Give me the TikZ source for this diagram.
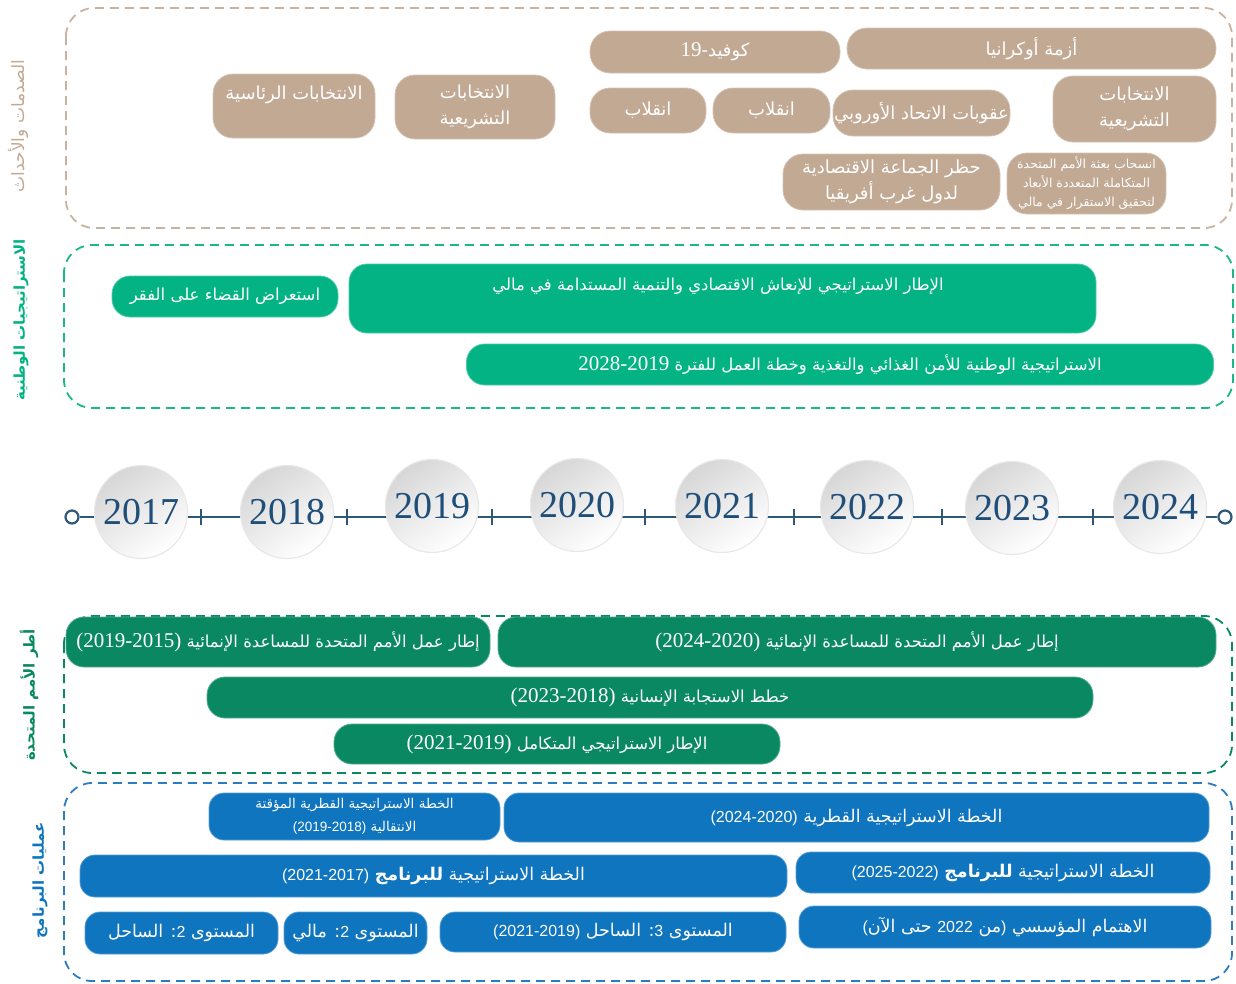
\documentclass[tikz,border=0pt]{standalone}
\usepackage{fontspec}
\TeXXeTstate=1
\newfontfamily\arabicfont[Script=Arabic]{DejaVu Sans}
\newfontfamily\numfont{Liberation Serif}
\newfontfamily\numsfont{Liberation Sans}
\newcommand{\ar}[1]{\beginR #1\endR}
\newcommand{\nm}[1]{\beginL{\numfont\fontsize{21}{24}\selectfont #1}\endL}
\newcommand{\nms}[1]{\beginL{\numsfont\fontsize{16}{20}\selectfont #1}\endL}
\newcommand{\nmss}[1]{\beginL{\numsfont\fontsize{13.5}{20}\selectfont #1}\endL}
\definecolor{tanfill}{HTML}{C1A994}
\definecolor{tanline}{HTML}{C9B29E}
\definecolor{ngreen}{HTML}{04B384}
\definecolor{ngreenline}{HTML}{1BB68A}
\definecolor{ungreen}{HTML}{0A8862}
\definecolor{pblue}{HTML}{0F75BF}
\definecolor{pblueline}{HTML}{2B7CC0}
\definecolor{yearblue}{HTML}{1F4E79}
\definecolor{tlcol}{HTML}{2F5877}
\tikzset{
  basebox/.style={rectangle, inner sep=0pt, text=white, align=center, line width=0.8pt},
  tanbox/.style={basebox, rounded corners=20pt, fill=tanfill, draw=tanfill!70!white,
     font=\arabicfont\fontsize{18}{26}\selectfont},
  natbox/.style={basebox, rounded corners=18pt, fill=ngreen, draw=ngreen!70!white,
     font=\arabicfont\fontsize{16.5}{22}\selectfont},
  unbox/.style={basebox, rounded corners=18pt, fill=ungreen, draw=ungreen!70!white,
     font=\arabicfont\fontsize{16.5}{22}\selectfont},
  progbox/.style={basebox, rounded corners=15pt, fill=pblue, draw=pblue!70!white,
     font=\arabicfont\fontsize{17.5}{22}\selectfont},
  boxtext/.style={inner sep=0pt, text=white, align=center},
  frame/.style={dash pattern=on 9pt off 6pt, line width=1.8pt, rounded corners=28pt},
  sidelabel/.style={rotate=90, inner sep=0pt, font=\arabicfont\fontsize{15}{18}\selectfont},
  yearc/.style={circle, minimum size=93pt, inner sep=0pt, top color=black!16, bottom color=white,
     shading angle=35, draw=black!9, line width=1.2pt, text=yearblue,
     font=\numfont\fontsize{38}{38}\selectfont},
  endc/.style={circle, minimum size=13pt, inner sep=0pt, draw=tlcol, line width=2.2pt, fill=white},
  tline/.style={draw=tlcol, line width=2.4pt}
}
\begin{document}
\begin{tikzpicture}[x=1pt,y=-1pt]
\useasboundingbox (0,0) rectangle (1236,983);

% ---------- frames ----------
\draw[frame, draw=tanline] (66,8) rectangle (1232,228);
\draw[frame, draw=ngreenline] (64,245) rectangle (1233,408);
\draw[frame, draw=ungreen] (64,616) rectangle (1232,773);
\draw[frame, draw=pblueline] (64,783) rectangle (1232,981);

% ---------- side labels ----------
\node[sidelabel, text=tanfill, font=\arabicfont\fontsize{17}{18}\selectfont] (lab1) at (18,126) {\ar{الصدمات والأحداث}};
\node[sidelabel, text=ngreen, font=\arabicfont\bfseries\fontsize{15}{18}\selectfont] (lab2) at (21,320) {\ar{الاستراتيجيات الوطنية}};
\node[sidelabel, text=ungreen, font=\arabicfont\bfseries\fontsize{15}{18}\selectfont] (lab3) at (29,695) {\ar{أطر الأمم المتحدة}};
\node[sidelabel, text=pblue, font=\arabicfont\bfseries\fontsize{15}{18}\selectfont] (lab4) at (40,880) {\ar{عمليات البرنامج}};

% ---------- shocks and events ----------
\node[tanbox, minimum width=162pt, minimum height=64pt] (t1) at (294,106) {};
\node[boxtext, font=\arabicfont\fontsize{18}{26}\selectfont] (t1l) at (294,95) {\ar{الانتخابات الرئاسية}};
\node[tanbox, minimum width=160pt, minimum height=64pt] (t2) at (475,107) {\ar{الانتخابات}\\\ar{التشريعية}};
\node[tanbox, minimum width=250pt, minimum height=42pt] (t3) at (715,52) {\ar{كوفيد-\nm{19}}};
\node[tanbox, minimum width=369pt, minimum height=41pt] (t4) at (1031.5,48.5) {\ar{أزمة أوكرانيا}};
\node[tanbox, minimum width=116pt, minimum height=45pt] (t5) at (648,110.5) {\ar{انقلاب}};
\node[tanbox, minimum width=117pt, minimum height=45pt] (t6) at (771.5,110.5) {\ar{انقلاب}};
\node[tanbox, minimum width=177pt, minimum height=46pt] (t7) at (921.5,113) {\ar{عقوبات الاتحاد الأوروبي}};
\node[tanbox, minimum width=163pt, minimum height=66pt] (t8) at (1134.5,109) {\ar{الانتخابات}\\\ar{التشريعية}};
\node[tanbox, minimum width=217pt, minimum height=56pt] (t9) at (891.5,182) {\ar{حظر الجماعة الاقتصادية}\\\ar{لدول غرب أفريقيا}};
\node[tanbox, minimum width=159pt, minimum height=61pt, font=\arabicfont\fontsize{12.5}{19}\selectfont] (t10) at (1086.5,183.5)
  {\ar{انسحاب بعثة الأمم المتحدة}\\\ar{المتكاملة المتعددة الأبعاد}\\\ar{لتحقيق الاستقرار في مالي}};

% ---------- national strategies ----------
\node[natbox, minimum width=226pt, minimum height=41pt] (g1) at (225,296.5) {\ar{استعراض القضاء على الفقر}};
\node[natbox, minimum width=747pt, minimum height=69pt] (g2) at (722.5,298.5) {};
\node[boxtext, font=\arabicfont\fontsize{16.5}{22}\selectfont] (g2l) at (718,286) {\ar{الإطار الاستراتيجي للإنعاش الاقتصادي والتنمية المستدامة في مالي}};
\node[natbox, minimum width=747pt, minimum height=41pt] (g3) at (840,364.5) {\ar{الاستراتيجية الوطنية للأمن الغذائي والتغذية وخطة العمل للفترة \nm{2028-2019}}};

% ---------- timeline ----------
\node[endc] (sL) at (72,517) {};
\node[endc] (sR) at (1225,517) {};
\draw[tline] (sL) -- (sR);
\foreach \tx in {201,347,492,645,794,942,1093}
  \draw[tline] (\tx,509) -- (\tx,525);
\node[yearc] (y2017) at (141,512) {2017};
\node[yearc] (y2018) at (287,512) {2018};
\node[yearc] (y2019) at (432,506) {2019};
\node[yearc] (y2020) at (577,505) {2020};
\node[yearc] (y2021) at (722,506) {2021};
\node[yearc] (y2022) at (867,507) {2022};
\node[yearc] (y2023) at (1012,508) {2023};
\node[yearc] (y2024) at (1160,507) {2024};

% ---------- UN frameworks ----------
\node[unbox, minimum width=424pt, minimum height=50pt] (u1) at (278,642) {\ar{إطار عمل الأمم المتحدة للمساعدة الإنمائية \nm{(2019-2015)}}};
\node[unbox, minimum width=718pt, minimum height=50pt] (u2) at (857,642) {\ar{إطار عمل الأمم المتحدة للمساعدة الإنمائية \nm{(2024-2020)}}};
\node[unbox, minimum width=886pt, minimum height=41pt] (u3) at (650,697.5) {\ar{خطط الاستجابة الإنسانية \nm{(2023-2018)}}};
\node[unbox, minimum width=446pt, minimum height=40pt] (u4) at (557,744) {\ar{الإطار الاستراتيجي المتكامل \nm{(2021-2019)}}};

% ---------- programme processes ----------
\node[progbox, minimum width=291pt, minimum height=47pt, font=\arabicfont\fontsize{13.5}{23}\selectfont] (b1) at (354.5,816.5)
  {\ar{الخطة الاستراتيجية القطرية المؤقتة}\\\ar{الانتقالية \nmss{(2019-2018)}}};
\node[progbox, minimum width=705pt, minimum height=49pt] (b2) at (856.5,817.5) {\ar{الخطة الاستراتيجية القطرية \nms{(2024-2020)}}};
\node[progbox, minimum width=707pt, minimum height=42pt] (b3) at (433.5,876) {\ar{الخطة الاستراتيجية {\bfseries للبرنامج} \nms{(2021-2017)}}};
\node[progbox, minimum width=414pt, minimum height=41pt] (b4) at (1003,872.5) {\ar{الخطة الاستراتيجية {\bfseries للبرنامج} \nms{(2025-2022)}}};
\node[progbox, minimum width=193pt, minimum height=42pt] (b5) at (181.5,933) {\ar{المستوى \nms{2}: الساحل}};
\node[progbox, minimum width=143pt, minimum height=42pt] (b6) at (355.5,933) {\ar{المستوى \nms{2}: مالي}};
\node[progbox, minimum width=346pt, minimum height=40pt] (b7) at (613,932) {\ar{المستوى \nms{3}: الساحل \nms{(2021-2019)}}};
\node[progbox, minimum width=412pt, minimum height=42pt] (b8) at (1005,927) {\ar{الاهتمام المؤسسي \nms{)}من \nms{2022} حتى الآن\nms{(}}};
\end{tikzpicture}
\end{document}
